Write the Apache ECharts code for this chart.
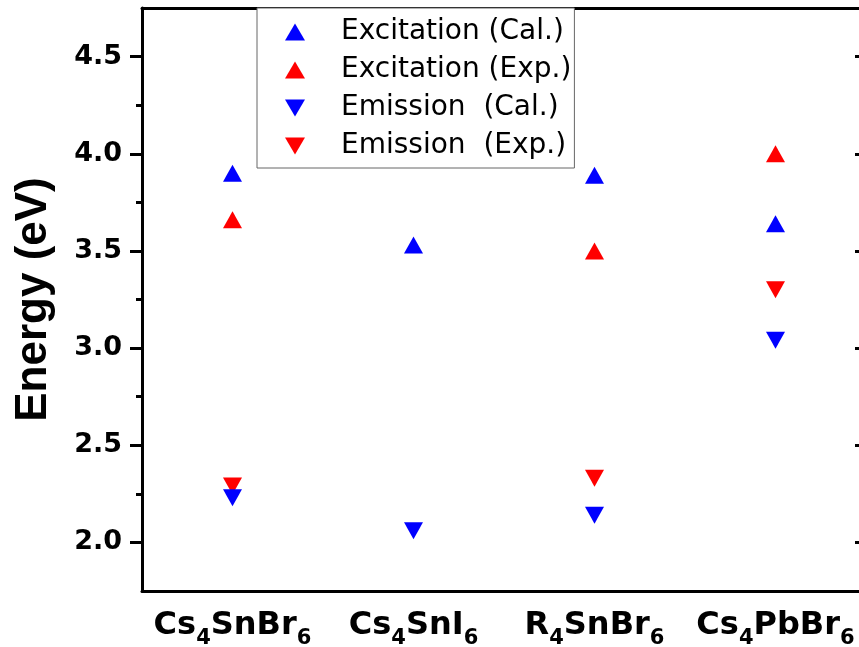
<!DOCTYPE html>
<html>
<head>
<meta charset="utf-8">
<title>Energy</title>
<script src="https://cdn.jsdelivr.net/npm/echarts@6/dist/echarts.min.js"></script>
<style>
  html, body { margin: 0; padding: 0; overflow: hidden; background: #fff; }
  #chart { width: 870px; height: 647px; }
</style>
</head>
<body>
<div id="chart"></div>
<script>
const compounds = ['Cs4SnBr6', 'Cs4SnI6', 'R4SnBr6', 'Cs4PbBr6']
const excitationCal = [3.90, 3.53, 3.89, 3.64]
const excitationExp = [3.66, null, 3.50, 4.00]
const emissionCal = [2.23, 2.06, 2.14, 3.04]
const emissionExp = [2.29, null, 2.33, 3.30]
const majorTicks = [2.0, 2.5, 3.0, 3.5, 4.0, 4.5]
const minorTicks = [2.25, 2.75, 3.25, 3.75, 4.25]

const upIcon = 'path://M10,0L20,17L0,17Z'
const downIcon = 'path://M0,0L20,0L10,17Z'
const BLUE = '#0000ff'
const RED = '#ff0000'

// turn the digits into subscripts
function formula(name) {
  return name.split(/(\d)/).filter(s => s).map(s => /\d/.test(s) ? `{sub|${s}}` : `{m|${s}}`).join('')
}

const chart = echarts.init(document.getElementById('chart'))

chart.setOption({
  animation: false,
  backgroundColor: '#fff',
  grid: { left: 142, right: 4, top: 8, bottom: 56, outerBoundsMode: 'none' },
  legend: {
    left: 257,
    top: 8,
    orient: 'vertical',
    selectedMode: false,
    backgroundColor: '#fff',
    borderColor: '#666',
    borderWidth: 1,
    padding: [9, 3, 7, 28],
    itemWidth: 20,
    itemHeight: 17,
    itemGap: 8,
    textStyle: { fontFamily: 'DejaVu Sans', fontSize: 28, lineHeight: 30, color: '#000', padding: [0, 0, 0, 31] },
    data: [
      { name: 'Excitation (Cal.)', icon: upIcon },
      { name: 'Excitation (Exp.)', icon: upIcon },
      { name: 'Emission  (Cal.)', icon: downIcon },
      { name: 'Emission  (Exp.)', icon: downIcon }
    ]
  },
  xAxis: [
    {
      type: 'category',
      data: compounds,
      boundaryGap: true,
      axisLine: { lineStyle: { color: '#000', width: 3 } },
      axisTick: { show: false },
      splitLine: { show: false },
      axisLabel: {
        interval: 0,
        margin: 18,
        formatter: formula,
        rich: {
          m: { fontFamily: 'DejaVu Sans', fontWeight: 'bold', fontSize: 32, lineHeight: 34, color: '#000' },
          sub: { fontFamily: 'DejaVu Sans', fontWeight: 'bold', fontSize: 21, lineHeight: 22, color: '#000', padding: [26, 0, 0, 0] }
        }
      }
    },
    {
      type: 'category',
      position: 'top',
      data: compounds,
      axisLine: { lineStyle: { color: '#000', width: 3 } },
      axisTick: { show: false },
      axisLabel: { show: false },
      splitLine: { show: false }
    }
  ],
  yAxis: [
    {
      type: 'value',
      position: 'left',
      min: 1.75,
      max: 4.75,
      name: 'Energy (eV)',
      nameLocation: 'middle',
      nameGap: 86,
      nameTextStyle: { fontFamily: 'Liberation Sans', fontWeight: 'bold', fontSize: 44, color: '#000' },
      axisLine: { show: true, lineStyle: { color: '#000', width: 3 } },
      axisTick: { show: true, customValues: majorTicks, length: 12, lineStyle: { color: '#000', width: 3 } },
      axisLabel: {
        customValues: majorTicks,
        formatter: v => v.toFixed(1),
        margin: 20,
        fontFamily: 'DejaVu Sans',
        fontWeight: 'bold',
        fontSize: 27,
        color: '#000'
      },
      splitLine: { show: false }
    },
    {
      type: 'value',
      position: 'left',
      min: 1.75,
      max: 4.75,
      axisLine: { show: false },
      axisTick: { show: true, customValues: minorTicks, length: 6, lineStyle: { color: '#000', width: 3 } },
      axisLabel: { show: false },
      splitLine: { show: false }
    },
    {
      type: 'value',
      position: 'right',
      min: 1.75,
      max: 4.75,
      axisLine: { show: true, lineStyle: { color: '#000', width: 3 } },
      axisTick: { show: true, inside: true, customValues: majorTicks, length: 11, lineStyle: { color: '#000', width: 3 } },
      axisLabel: { show: false },
      splitLine: { show: false }
    }
  ],
  series: [
    {
      name: 'Excitation (Cal.)',
      type: 'scatter',
      symbol: upIcon,
      symbolSize: [19, 17],
      itemStyle: { color: BLUE, opacity: 1 },
      z: 2,
      data: excitationCal
    },
    {
      name: 'Excitation (Exp.)',
      type: 'scatter',
      symbol: upIcon,
      symbolSize: [19, 17],
      itemStyle: { color: RED, opacity: 1 },
      z: 2,
      data: excitationExp
    },
    {
      name: 'Emission  (Cal.)',
      type: 'scatter',
      symbol: downIcon,
      symbolSize: [19, 17],
      itemStyle: { color: BLUE, opacity: 1 },
      z: 3,
      data: emissionCal
    },
    {
      name: 'Emission  (Exp.)',
      type: 'scatter',
      symbol: downIcon,
      symbolSize: [19, 17],
      itemStyle: { color: RED, opacity: 1 },
      z: 2,
      data: emissionExp
    }
  ]
})
</script>
</body>
</html>
